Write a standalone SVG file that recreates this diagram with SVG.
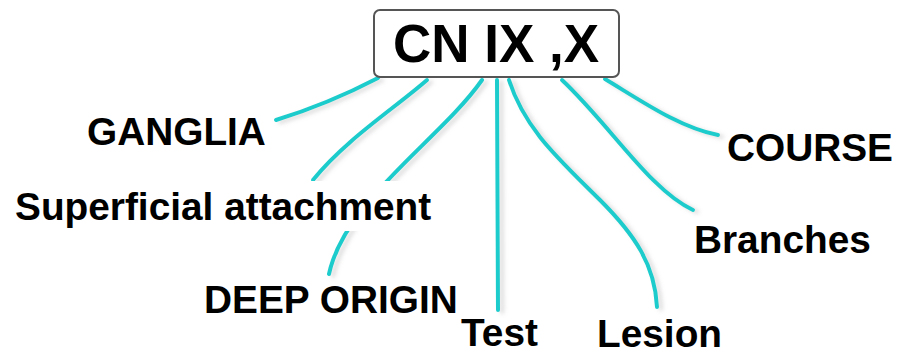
<svg xmlns="http://www.w3.org/2000/svg" width="898" height="356" viewBox="0 0 898 356">
  <style>
    .lbl { font-family: "Liberation Sans", Arial, Helvetica, sans-serif; font-weight: bold; font-size: 38.8px; fill: #000; }
    .title { font-family: "Liberation Sans", Arial, Helvetica, sans-serif; font-weight: bold; font-size: 53px; fill: #000; }
    .conn { fill: none; stroke: #1fcccc; stroke-width: 4; stroke-linecap: round; }
  </style>
  <defs>
    <filter id="shadow" x="-20%" y="-20%" width="140%" height="140%">
      <feDropShadow dx="4" dy="2" stdDeviation="2" flood-color="#999" flood-opacity="0.35"/>
    </filter>
  </defs>
  <rect width="898" height="356" fill="#fff"/>
  <g id="connectors" filter="url(#shadow)">
    <path class="conn" d="M378,78 Q328,104 276,120"/>
    <path class="conn" d="M427,80 C395,108 345,140 313,180"/>
    <path class="conn" d="M482,80 C440,140 345,200 329,274"/>
    <path class="conn" d="M497,80 L498,310"/>
    <path class="conn" d="M509,80 C525,130 560,160 600,200 C635,235 655,265 657,307"/>
    <path class="conn" d="M562,80 C610,125 650,190 693,210"/>
    <path class="conn" d="M605,79 C640,100 680,128 718,135"/>
  </g>
  <g id="root">
    <rect x="374" y="10" width="245" height="67" rx="6" ry="6" fill="#fff" stroke="#555" stroke-width="2"/>
    <text class="title" x="496" y="62" text-anchor="middle">CN IX ,X</text>
  </g>
  <g id="ganglia"><text class="lbl" x="87" y="145">GANGLIA</text></g>
  <g id="superficial">
    <rect x="10" y="181" width="430" height="50" fill="#fff"/>
    <text class="lbl" x="15" y="220">Superficial attachment</text>
  </g>
  <g id="deep-origin"><text class="lbl" x="204" y="313">DEEP ORIGIN</text></g>
  <g id="test"><text class="lbl" x="461" y="346">Test</text></g>
  <g id="lesion"><text class="lbl" x="597" y="347">Lesion</text></g>
  <g id="branches"><text class="lbl" x="694" y="253">Branches</text></g>
  <g id="course"><text class="lbl" x="727" y="161">COURSE</text></g>
</svg>
